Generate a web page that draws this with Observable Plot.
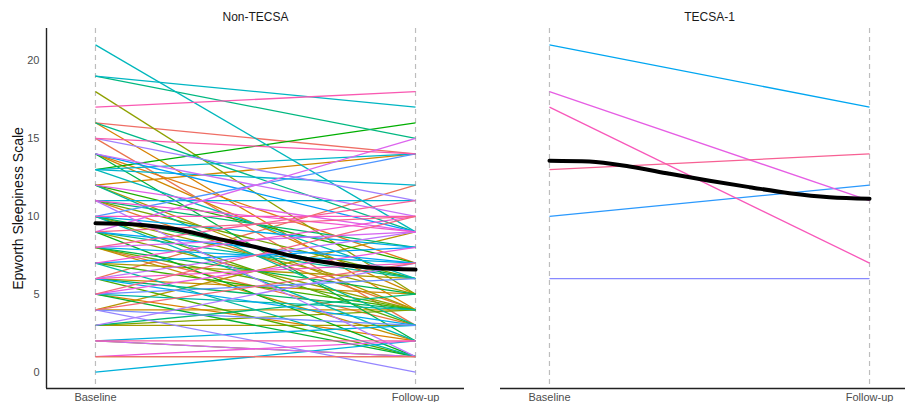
<!DOCTYPE html>
<html>
<head>
<meta charset="utf-8">
<script src="https://cdn.jsdelivr.net/npm/d3@7"></script>
<script src="https://cdn.jsdelivr.net/npm/@observablehq/plot@0.6"></script>
<style>
  html, body { margin: 0; padding: 0; background: #fff; overflow: hidden; }
  #chart { width: 905px; height: 402px; overflow: hidden; }
  #chart svg { max-width: none !important; }
</style>
</head>
<body>
<div id="chart"></div>
<script>
const groups = ["Non-TECSA", "TECSA-1"];
const timeLabels = ["Baseline", "Follow-up"];
const yTicks = [0, 5, 10, 15, 20];
const yTitle = "Epworth Sleepiness Scale";
const nTotal = 92;

// TECSA-1 patients
const tecsaIds = [56, 60, 64, 75, 82, 87];
const tecsaBaseline = [21, 10, 6, 18, 17, 13];
const tecsaFollow = [17, 12, 6, 11, 7, 14];

// Non-TECSA patients (in patient-id order)
const nonBaseline = [16,6,15,8,11,14,5, 16,12,14,6,4,8, 1,4,12,7,3,10,9, 18,2,3,11,8,10,6,7,12, 13,9,5,14,8,10,6,11,3, 19,16,12,9,7,5,10,13, 21,19,13,13,11,0,2,8,10,6, 9,7,14, 10,5,4, 4,15,3,11,6,14,2,8, 9,12,5,1,7,11,6,10, 17,15,2,8, 9,5,4,1];
const nonFollow = [14,12,3,3,4,7,2, 4,14,5,5,4,2, 1,9,4,6,3,5,4, 5,1,4,6,4,3,1,4,7, 16,1,1,2,5,6,4,8,5, 15,9,3,6,1,4,2,6, 9,17,14,12,11,2,3,7,8,3, 7,8,9, 14,6,3, 0,11,7,1,9,10,1,9, 15,9,8,2,10,9,7,10, 18,14,2,11, 10,10,7,1];

// Smoothed trend
const smoothT = [0, 0.125, 0.25, 0.375, 0.5, 0.625, 0.75, 0.875, 1];
const nonSmooth = [9.55, 9.48, 9.18, 8.6, 8.03, 7.4, 6.95, 6.68, 6.58];
const tecsaSmooth = [13.57, 13.52, 13.2, 12.73, 12.28, 11.87, 11.48, 11.22, 11.13];

// ggplot-style hue palette (polar CIELUV -> sRGB)
function hclLuv(h, c, l) {
  const Xn = 95.047, Yn = 100, Zn = 108.883;
  const hr = h * Math.PI / 180;
  const u = c * Math.cos(hr), v = c * Math.sin(hr);
  const Y = l > 8 ? Yn * Math.pow((l + 16) / 116, 3) : Yn * l / 903.3;
  const den = Xn + 15 * Yn + 3 * Zn;
  const un = 4 * Xn / den, vn = 9 * Yn / den;
  const up = u / (13 * l) + un, vp = v / (13 * l) + vn;
  const X = 9 * Y * up / (4 * vp);
  const Z = Y * (12 - 3 * up - 20 * vp) / (4 * vp);
  const x = X / 100, y = Y / 100, z = Z / 100;
  const lin = [
    3.240479 * x - 1.537150 * y - 0.498535 * z,
    -0.969256 * x + 1.875992 * y + 0.041556 * z,
    0.055648 * x - 0.204043 * y + 1.057311 * z
  ];
  const g = t => {
    const s = t <= 0.0031308 ? 12.92 * t : 1.055 * Math.pow(t, 1 / 2.4) - 0.055;
    return Math.round(Math.max(0, Math.min(1, s)) * 255);
  };
  return d3.rgb(g(lin[0]), g(lin[1]), g(lin[2])).formatHex();
}

// build tables
const allIds = d3.range(nTotal);
const nonIds = allIds.filter(k => !tecsaIds.includes(k));
const patients = [
  ...nonIds.map((id, i) => ({group: groups[0], id, b: nonBaseline[i], f: nonFollow[i]})),
  ...tecsaIds.map((id, i) => ({group: groups[1], id, b: tecsaBaseline[i], f: tecsaFollow[i]}))
];
const smooth = [
  ...smoothT.map((t, i) => ({group: groups[0], t, v: nonSmooth[i]})),
  ...smoothT.map((t, i) => ({group: groups[1], t, v: tecsaSmooth[i]}))
];
const palette = allIds.map(k => hclLuv(15 + 360 * k / nTotal, 100, 62));

const xDomain = [-0.153, 1.153];
const yDomain = [-1.05, 22.05];

const chart = Plot.plot({
  width: 918,
  height: 402,
  marginLeft: 46,
  marginRight: 0,
  marginTop: 28,
  marginBottom: 14,
  style: {fontFamily: "'Liberation Sans', Arial, sans-serif", background: "#fff", maxWidth: "none"},
  fx: {domain: groups, paddingInner: 0.0793, paddingOuter: 0, label: null},
  x: {domain: xDomain, label: null},
  y: {domain: yDomain, label: null},
  color: {type: "ordinal", domain: allIds, range: palette},
  marks: [
    Plot.ruleX([0, 1], {stroke: "#bdbdbd", strokeWidth: 1.2, strokeDasharray: "5,4"}),
    Plot.link(patients, {fx: "group", x1: () => 0, x2: () => 1, y1: "b", y2: "f", stroke: "id", strokeWidth: 1.3}),
    Plot.line(smooth, {fx: "group", x: "t", y: "v", z: "group", curve: "monotone-x", stroke: "#000", strokeWidth: 4}),
    Plot.ruleY([yDomain[0]], {stroke: "#222", strokeWidth: 1.4}),
    Plot.ruleX([{group: groups[0]}], {fx: "group", x: () => xDomain[0], stroke: "#222", strokeWidth: 1.4}),
    Plot.axisFx({anchor: "top", tickSize: 0, tickPadding: 8, fontSize: 12, color: "#1a1a1a", label: null}),
    Plot.axisX({ticks: [0, 1], tickFormat: d => timeLabels[d], tickSize: 0, tickPadding: 5, fontSize: 11, color: "#4d4d4d", label: null}),
    Plot.axisY({ticks: yTicks, tickSize: 0, tickPadding: 7, fontSize: 11, color: "#4d4d4d", label: null}),
    Plot.axisY({ticks: [], tickSize: 0, label: yTitle, labelArrow: "none", labelAnchor: "center", labelOffset: 33, fontSize: 14, color: "#111"})
  ]
});
chart.style.maxWidth = "none";
chart.style.height = "402px";
document.getElementById("chart").appendChild(chart);
</script>
</body>
</html>
